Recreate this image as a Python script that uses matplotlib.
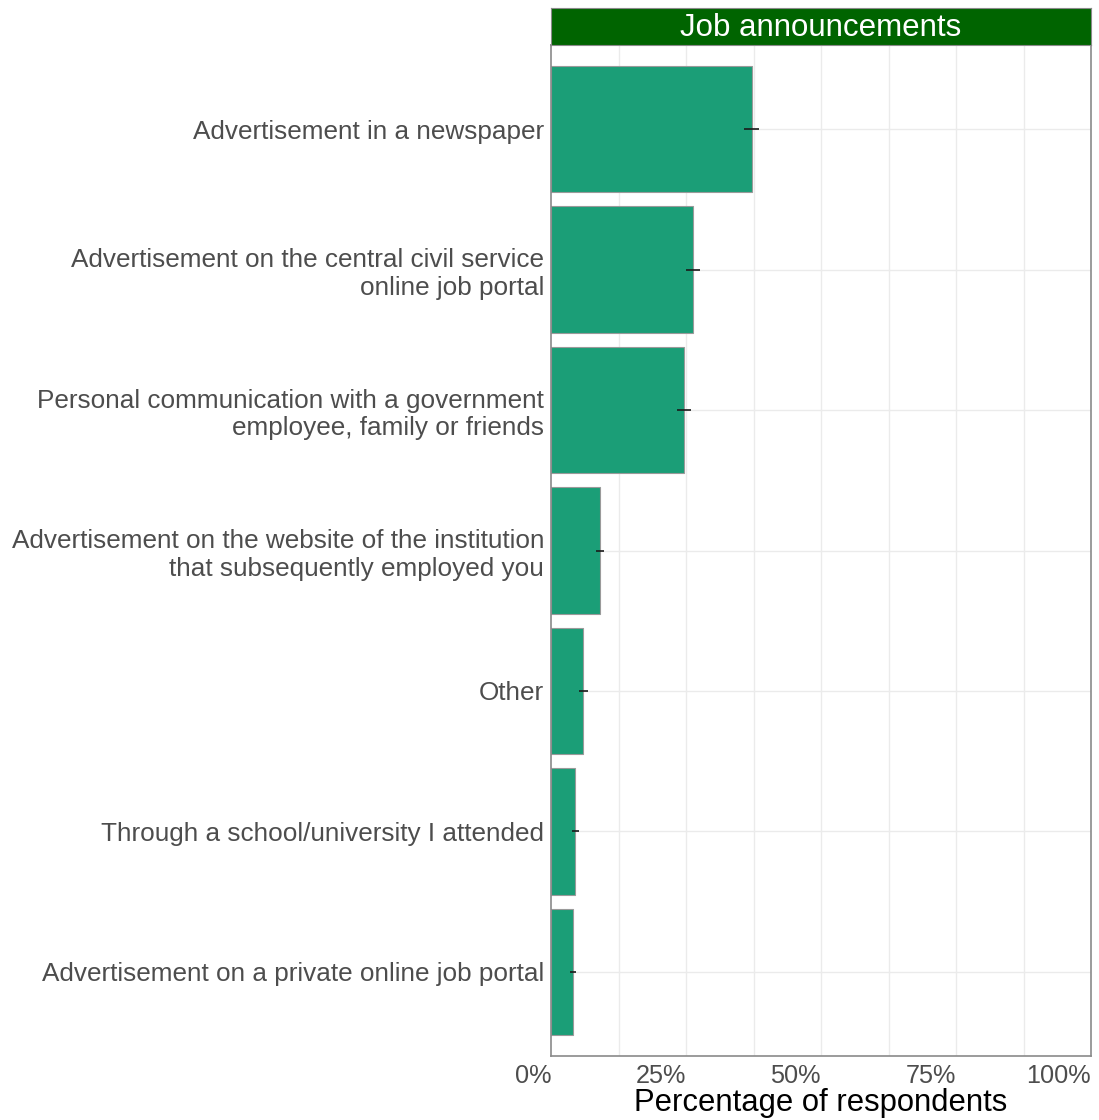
import matplotlib.pyplot as plt
import numpy as np

plt.rcParams['font.family'] = ['Liberation Sans', 'DejaVu Sans']

# data
categories = ['Advertisement in a newspaper',
              'Advertisement on the central civil service\nonline job portal',
              'Personal communication with a government\nemployee, family or friends',
              'Advertisement on the website of the institution\nthat subsequently employed you',
              'Other',
              'Through a school/university I attended',
              'Advertisement on a private online job portal']
share = [37.2, 26.3, 24.7, 9.1, 6.0, 4.5, 4.1]
err = [1.4, 1.3, 1.3, 0.8, 0.8, 0.7, 0.6]
xticks = [0, 25, 50, 75, 100]
xticklabels = ['0%', '25%', '50%', '75%', '100%']

fig = plt.figure(figsize=(10.99, 11.2), dpi=100)
ax = fig.add_axes([551 / 1099, 1 - 1056 / 1120, 540 / 1099, 1011 / 1120])

y = np.arange(len(categories))[::-1] + 1

# grid
for g in [12.5, 25, 37.5, 50, 62.5, 75, 87.5]:
    ax.axvline(g, color='#ebebeb', lw=1, zorder=0)
for yy in y:
    ax.axhline(yy, color='#ebebeb', lw=1, zorder=0)

ax.barh(y, share, height=0.9, color='#1b9e77', edgecolor='#9a9a9a', linewidth=0.8, zorder=2)
ax.errorbar(share, y, xerr=err, fmt='none', ecolor='#1a1a1a', elinewidth=1.2, capsize=0, zorder=3)

ax.set_xlim(0, 100)
ax.set_ylim(0.4, 7.6)
ax.set_xticks(xticks)
ax.set_xticklabels(xticklabels, ha='right', fontsize=18.2, color='#4d4d4d')
ax.set_yticks(y)
ax.set_yticklabels(categories, fontsize=18.8, color='#4d4d4d', linespacing=1.2)
ax.tick_params(axis='both', length=0)
ax.tick_params(axis='y', pad=5)
ax.tick_params(axis='x', pad=6)
for s in ax.spines.values():
    s.set_color('#8a8a8a')
    s.set_linewidth(1.2)
ax.set_xlabel('Percentage of respondents', fontsize=22.3, color='black', labelpad=-0.5)

# facet strip
strip = fig.add_axes([551 / 1099, 1 - 45 / 1120, 540 / 1099, 37 / 1120])
strip.set_facecolor('#006400')
strip.set_xticks([])
strip.set_yticks([])
for s in strip.spines.values():
    s.set_color('#8a8a8a')
strip.text(0.5, 0.47, 'Job announcements', color='white', fontsize=22.5,
           ha='center', va='center', transform=strip.transAxes)

plt.savefig('out.png', dpi=100)
